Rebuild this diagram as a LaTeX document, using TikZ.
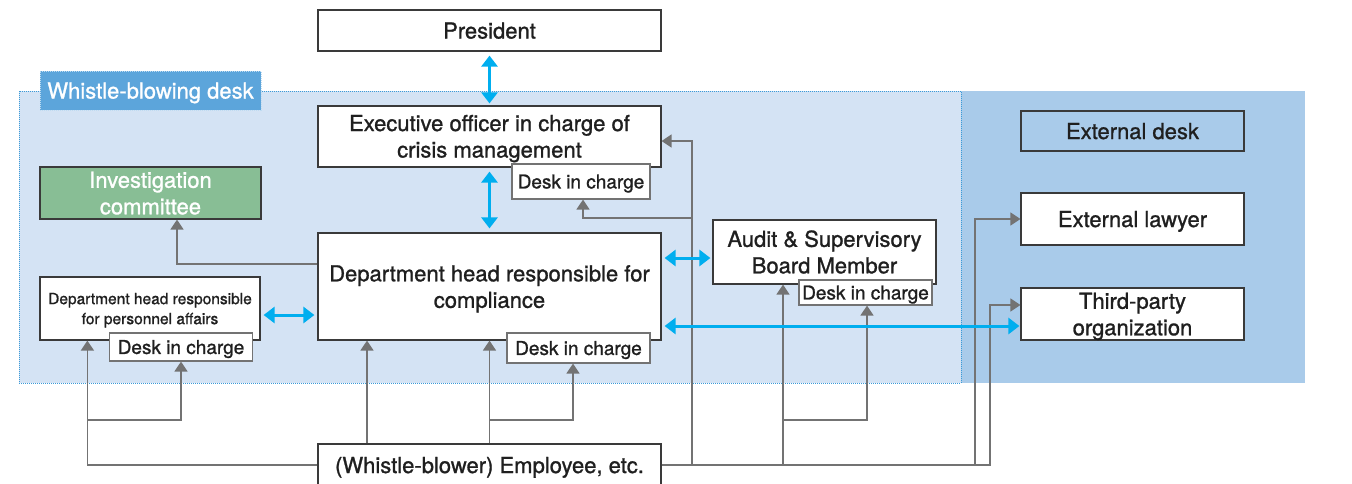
\documentclass[tikz,border=0pt]{standalone}
\usepackage{fontspec}
\setmainfont{TeX Gyre Heros}[FakeBold=1.1]
\usepackage{tikz}
\usetikzlibrary{arrows.meta}
\definecolor{deskbg}{HTML}{D4E3F4}
\definecolor{extbg}{HTML}{A9CBEA}
\definecolor{labelbg}{HTML}{5CA5DB}
\definecolor{dotblue}{HTML}{3B9BD8}
\definecolor{committee}{HTML}{88BE95}
\definecolor{linkblue}{HTML}{00AEEF}
\definecolor{feedgray}{HTML}{737373}
\definecolor{boxline}{HTML}{3A3A3A}

\begin{document}
\begin{tikzpicture}[x=1pt,y=-1pt,
  box/.style={draw=boxline,line width=1.2pt,fill=white,text=black!88,align=center,inner sep=0pt,font=\fontsize{22}{26.5}\selectfont},
  deskbox/.style={draw=feedgray,line width=1.2pt,fill=white,text=black!88,inner sep=0pt,text depth=-2pt,font=\fontsize{19}{22}\selectfont},
  link/.style={draw=linkblue,line width=3pt,{Triangle[width=16pt,length=11pt]}-{Triangle[width=16pt,length=11pt]}},
  feed/.style={draw=feedgray,line width=1.5pt,-{Triangle[width=13pt,length=10pt]}}]
  \useasboundingbox (0,0) rectangle (1352,483);

  % areas
  \fill[extbg] (961,91) rectangle (1305,383);
  \draw[dotblue,densely dotted,line width=1pt,fill=deskbg] (19,91) rectangle (961,383);
  \node[draw=white!60!labelbg,densely dotted,line width=1pt,fill=labelbg,text=white,text depth=-3.4pt,
        minimum width=221pt,minimum height=39pt,inner sep=0pt,font=\fontsize{22}{26}\selectfont]
        (wbdesk) at (150.5,90.5) {Whistle-blowing desk};

  % junctions on the employee lines
  \coordinate (jp) at (88,420);
  \coordinate (jc) at (489.5,420);
  \coordinate (jx) at (692,465);
  \coordinate (jd) at (692,218);
  \coordinate (ja) at (783,465);
  \coordinate (jb) at (783,420);
  \coordinate (jw) at (975,465);
  \coordinate (jt) at (990,465);

  % boxes
  \node[box,minimum width=343pt,minimum height=41pt,text depth=-4pt] (pres) at (489.5,30.5) {President};
  \node[box,minimum width=343pt,minimum height=61pt,text depth=0.6pt] (exec) at (489.5,136.5)
    {Executive officer in charge of\\crisis management};
  \node[box,minimum width=343pt,minimum height=107pt,text depth=-4.4pt] (comp) at (489.5,286.5)
    {Department head responsible for\\compliance};
  \node[box,fill=committee,text=white,minimum width=221pt,minimum height=52pt,text depth=-4pt] (invest) at (150.5,193)
    {Investigation\\committee};
  \node[box,minimum width=220pt,minimum height=63pt,text depth=-0.7pt,font=\fontsize{15.5}{20}\selectfont] (pers) at (150,308.5)
    {Department head responsible\\for personnel affairs};
  \node[box,minimum width=223pt,minimum height=64pt] (audit) at (824.5,252)
    {Audit \& Supervisory\\Board Member};
  \node[box,fill=extbg,minimum width=223pt,minimum height=40pt,text depth=-4pt] (extdesk) at (1132.5,131) {External desk};
  \node[box,minimum width=223pt,minimum height=52pt,text depth=-3.4pt] (lawyer) at (1132.5,219) {External lawyer};
  \node[box,minimum width=223pt,minimum height=52pt,text depth=-2.4pt] (third) at (1132.5,314)
    {Third-party\\organization};
  \node[box,minimum width=343pt,minimum height=42pt,text depth=-3.3pt] (emp) at (489.5,465)
    {(Whistle-blower) Employee, etc.};

  % desks in charge
  \node[deskbox,minimum width=138pt,minimum height=35pt] (execdesk) at (581,181.5) {Desk in charge};
  \node[deskbox,minimum width=143pt,minimum height=30pt] (compdesk) at (578.5,348) {Desk in charge};
  \node[deskbox,minimum width=143pt,minimum height=28pt] (persdesk) at (181,347) {Desk in charge};
  \node[deskbox,minimum width=133pt,minimum height=25pt] (auditdesk) at (865.5,292.5) {Desk in charge};

  % gray lines
  \draw[feed] ([yshift=22.5pt]comp.west) -| ([xshift=26.5pt]invest.south);
  \draw[feed] (emp.west) -| ([xshift=48pt]pers.south west);
  \draw[feed] (jp) -| (persdesk.south);
  \draw[feed] ([xshift=-122.5pt]emp.north) -- ([xshift=-122.5pt]comp.south);
  \draw[feed] (emp.north) -- (comp.south);
  \draw[feed] (jc) -| ([xshift=-5.5pt]compdesk.south);
  \draw[feed] (emp.east) -- (jt) |- ([yshift=9pt]third.west);
  \draw[feed] (jw) |- (lawyer.west);
  \draw[feed] (jx) |- ([yshift=-4.5pt]exec.east);
  \draw[feed] (jd) -| ([xshift=2pt]execdesk.south);
  \draw[feed] (ja) -- (ja |- audit.south);
  \draw[feed] (jb) -| ([xshift=1.5pt]auditdesk.south);

  % blue links
  \draw[link,shorten <=4pt,shorten >=2pt] (pres) -- (exec);
  \draw[link,shorten <=4pt,shorten >=4pt] (exec.south) -- (comp.north);
  \draw[link,shorten <=3pt,shorten >=3pt] ([yshift=-6.5pt]pers.east) -- ([yshift=-28.5pt]comp.west);
  \draw[link,shorten <=3pt,shorten >=2pt] ([yshift=28.5pt]comp.east) -- ([yshift=-6pt]audit.west);
  \draw[link,shorten <=3pt,shorten >=1pt] ([yshift=-39.5pt]comp.east) -- ([yshift=-12pt]third.west);
\end{tikzpicture}
\end{document}
